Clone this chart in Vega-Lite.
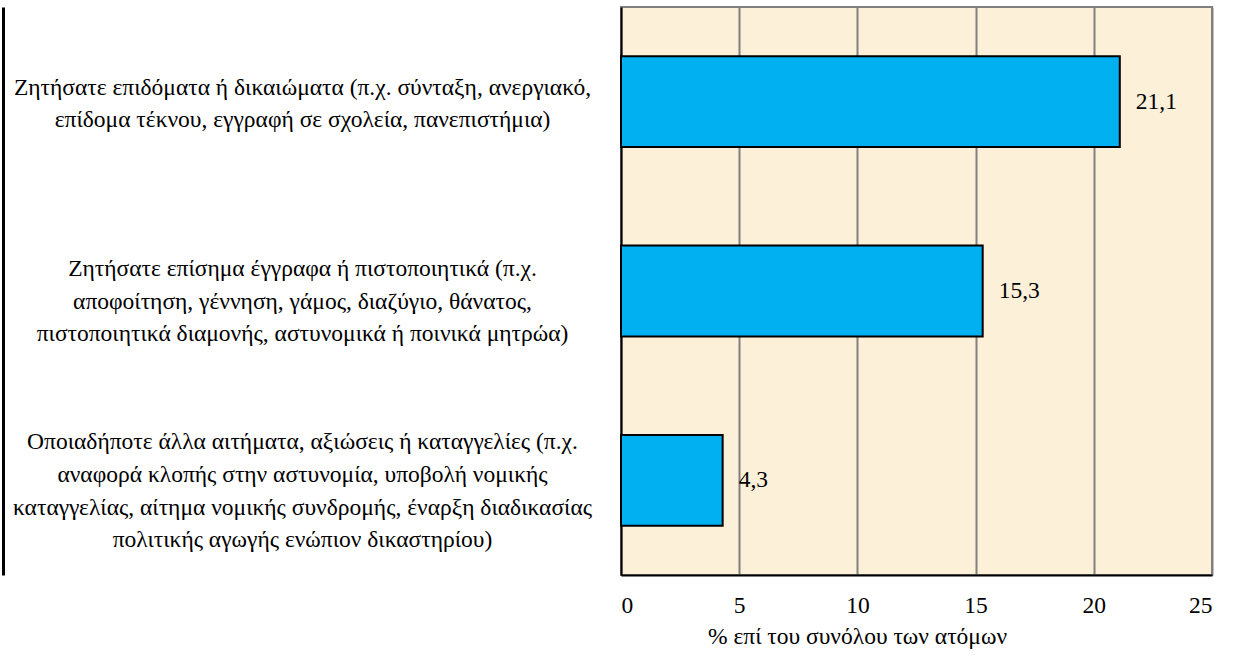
{
  "$schema": "https://vega.github.io/schema/vega-lite/v6.json",
  "width": 591,
  "height": 568,
  "autosize": {"type": "none"},
  "padding": {"left": 621, "top": 7, "right": 21, "bottom": 81},
  "background": "white",
  "config": {
    "font": "Liberation Serif",
    "axis": {"labelFont": "Liberation Serif", "titleFont": "Liberation Serif"},
    "text": {"font": "Liberation Serif"},
    "view": {"fill": "#FCF0D8", "stroke": "#808080", "strokeWidth": 2},
    "locale": {"number": {"decimal": ",", "thousands": ".", "grouping": [3], "currency": ["", " €"]}}
  },
  "data": {
    "values": [
      {"cat": "Ζητήσατε επιδόματα ή δικαιώματα (π.χ. σύνταξη, ανεργιακό,|επίδομα τέκνου, εγγραφή σε σχολεία, πανεπιστήμια)", "value": 21.1},
      {"cat": "Ζητήσατε επίσημα έγγραφα ή πιστοποιητικά (π.χ.|αποφοίτηση, γέννηση, γάμος, διαζύγιο, θάνατος,|πιστοποιητικά διαμονής, αστυνομικά ή ποινικά μητρώα)", "value": 15.3},
      {"cat": "Οποιαδήποτε άλλα αιτήματα, αξιώσεις ή καταγγελίες (π.χ.|αναφορά κλοπής στην αστυνομία, υποβολή νομικής|καταγγελίας, αίτημα νομικής συνδρομής, έναρξη διαδικασίας|πολιτικής αγωγής ενώπιον δικαστηρίου)", "value": 4.3}
    ]
  },
  "encoding": {
    "x": {
      "field": "value",
      "type": "quantitative",
      "scale": {"domain": [0, 25], "nice": false},
      "axis": {
        "values": [0, 5, 10, 15, 20, 25],
        "format": "d",
        "title": "% επί του συνόλου των ατόμων",
        "titleFontSize": 23.5,
        "titleFontWeight": "normal",
        "titleColor": "black",
        "titlePadding": 8,
        "titleX": 236,
        "titleAlign": "center",
        "labelFontSize": 23.5,
        "labelColor": "black",
        "labelPadding": 18,
        "ticks": false,
        "domainColor": "black",
        "domainWidth": 2,
        "grid": true,
        "gridColor": "#808080",
        "gridWidth": 2
      }
    }
  },
  "layer": [
    {
      "mark": {"type": "bar", "color": "#00B0F0", "stroke": "black", "strokeWidth": 2},
      "encoding": {
        "y": {
          "field": "cat",
          "type": "nominal",
          "sort": null,
          "scale": {"paddingInner": 0.52, "paddingOuter": 0.26},
          "axis": {
            "title": null,
            "ticks": false,
            "domain": true,
            "domainColor": "black",
            "domainWidth": 2,
            "labelExpr": "split(datum.label, '|')",
            "labelAlign": "center",
            "labelBaseline": "middle",
            "labelPadding": 319,
            "labelFontSize": 23.5,
            "labelLineHeight": 32.7,
            "labelColor": "black",
            "labelLimit": 0,
            "labelOffset": {
              "condition": [
                {"test": "indexof(datum.value, 'επιδόματα') >= 0", "value": -14},
                {"test": "indexof(datum.value, 'επίσημα') >= 0", "value": -22}
              ],
              "value": -38
            }
          }
        }
      }
    },
    {
      "mark": {"type": "text", "align": "left", "baseline": "middle", "dx": 16, "fontSize": 23.5, "color": "black"},
      "encoding": {
        "y": {
          "field": "cat",
          "type": "nominal",
          "sort": null,
          "axis": {
            "orient": "left",
            "offset": 618,
            "title": null,
            "labels": false,
            "ticks": false,
            "grid": false,
            "domain": true,
            "domainColor": "black",
            "domainWidth": 3
          }
        },
        "text": {"field": "value", "type": "quantitative", "format": ".1f"}
      }
    }
  ],
  "resolve": {"axis": {"y": "independent"}}
}
